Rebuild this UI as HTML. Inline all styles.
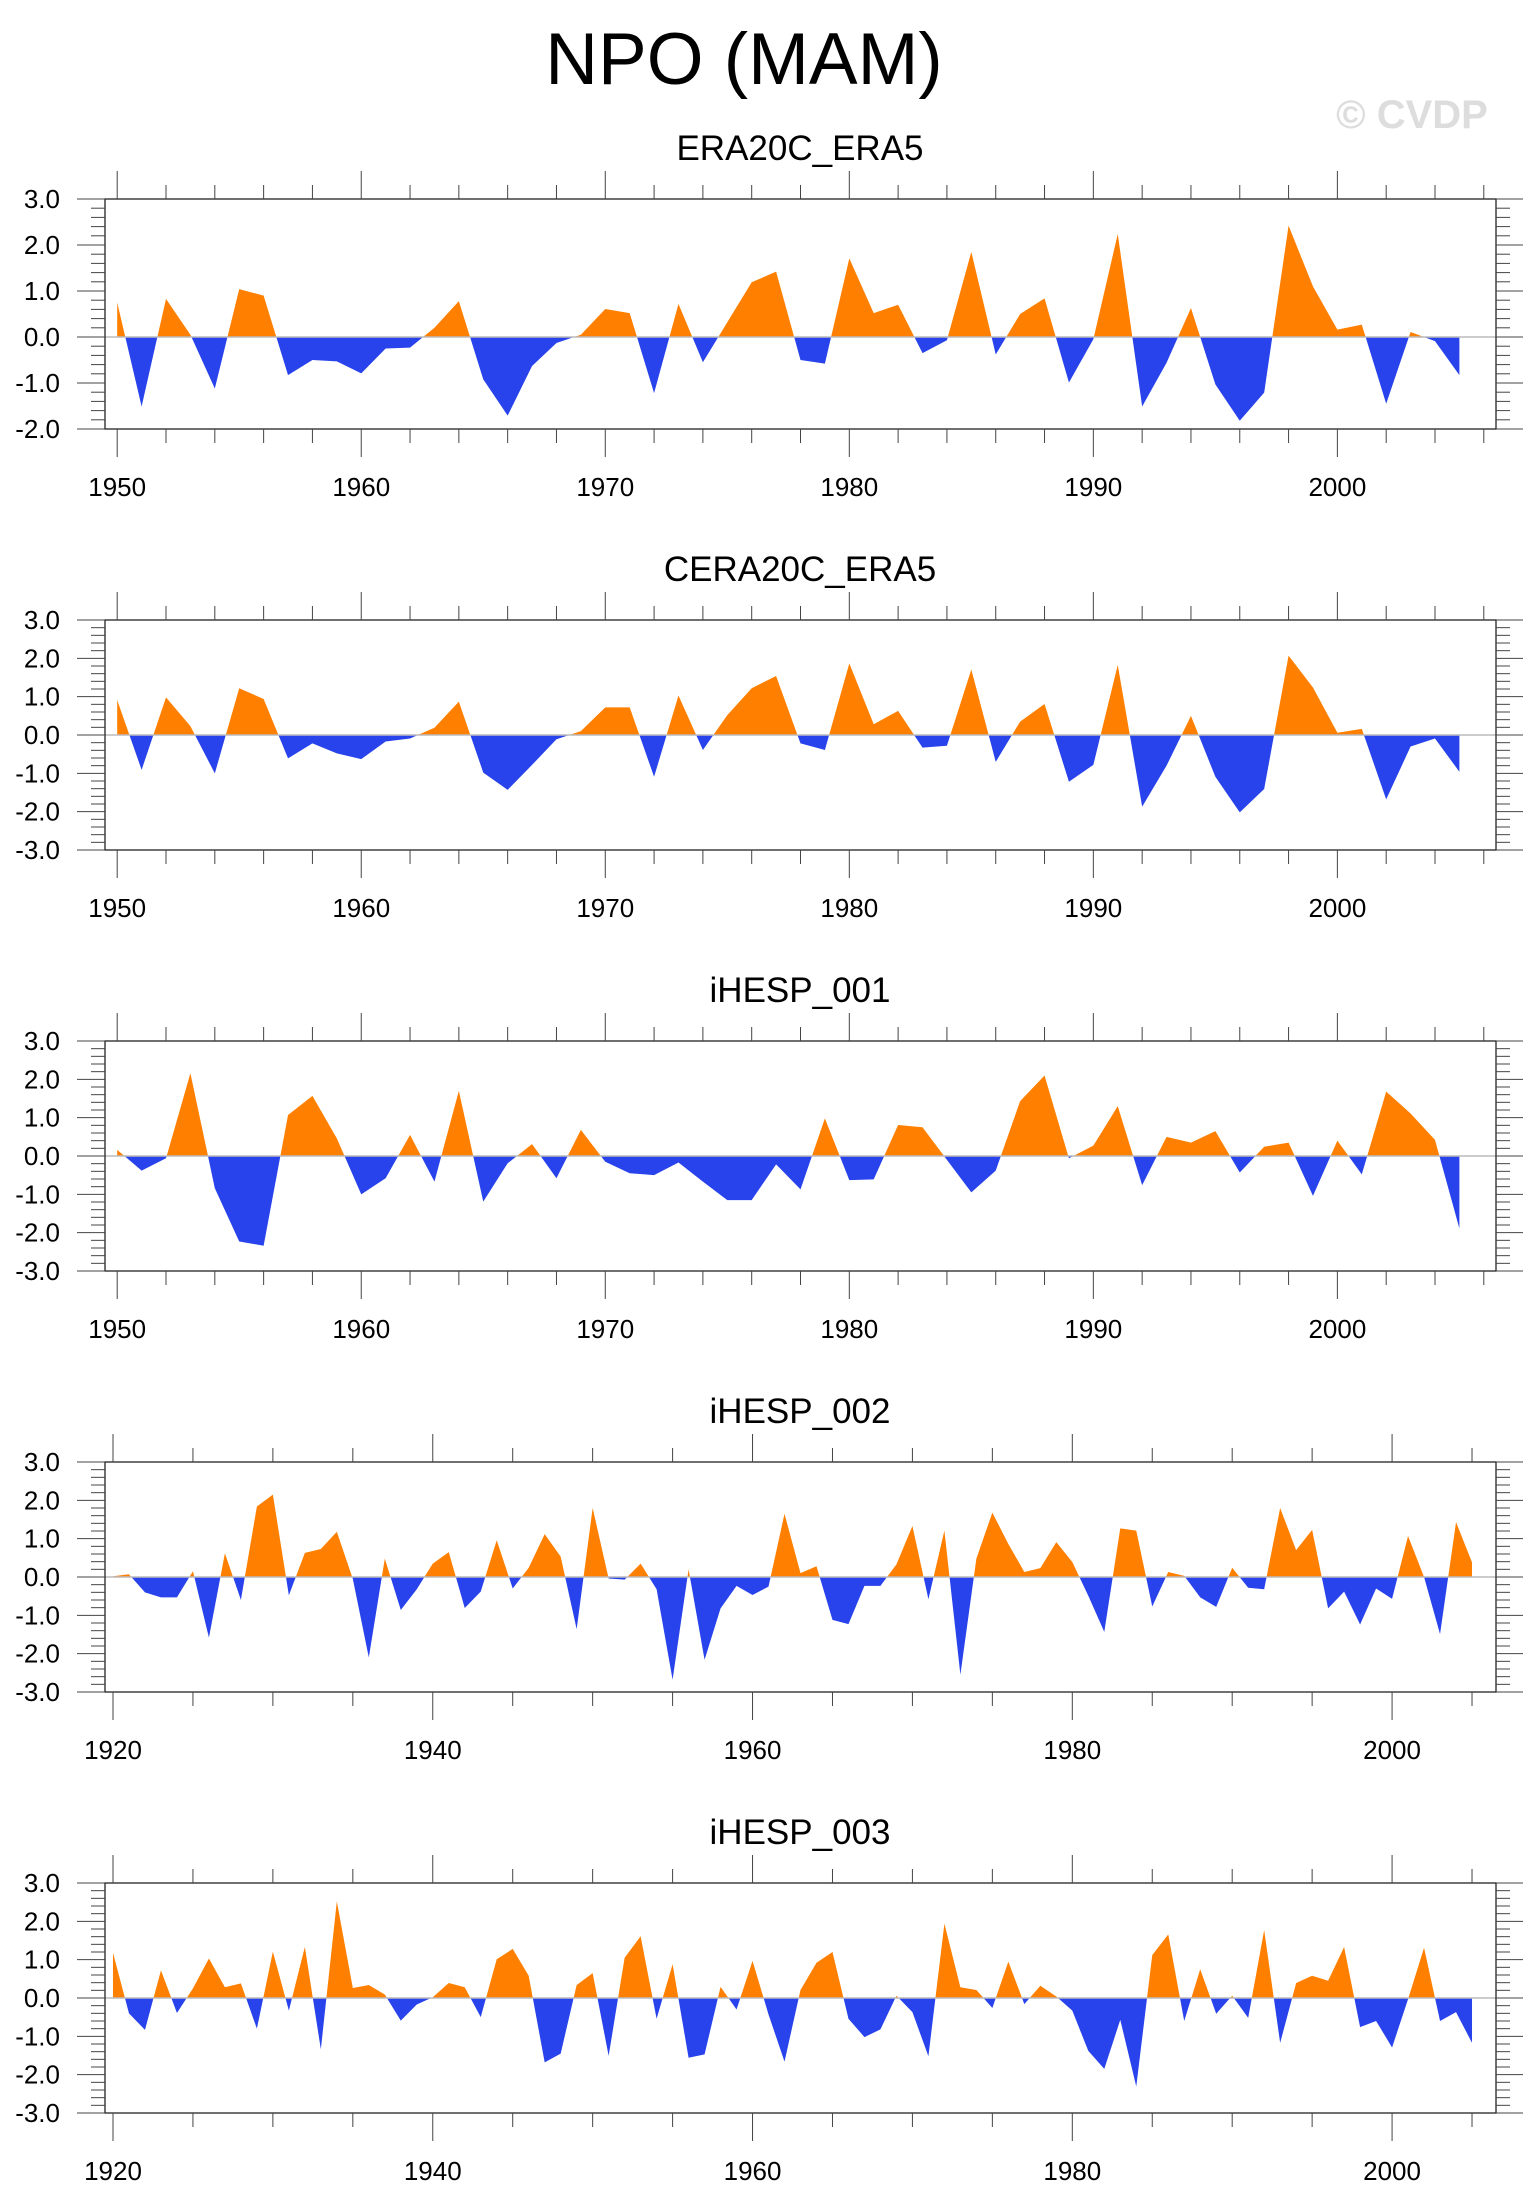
<!DOCTYPE html>
<html><head><meta charset="utf-8"><style>
html,body{margin:0;padding:0;background:#fff;}
svg{display:block;font-family:"Liberation Sans",Arial,sans-serif;}
</style></head><body>
<svg id="root" width="1533" height="2211" viewBox="0 0 1533 2211" xmlns="http://www.w3.org/2000/svg">
<text x="744" y="84" font-size="73" text-anchor="middle" fill="#000">NPO (MAM)</text>
<text x="1412" y="128" font-size="40" font-weight="bold" text-anchor="middle" fill="#ddd">© CVDP</text>
<g id="panels"></g>
</svg>
<script>
const titles = ["ERA20C_ERA5","CERA20C_ERA5","iHESP_001","iHESP_002","iHESP_003"];
const startYears = [1950,1950,1950,1920,1920];
const yMins = [-2,-3,-3,-3,-3];
const yMaxs = [3,3,3,3,3];
const era20c = [0.75,-1.51,0.83,0.05,-1.12,1.04,0.9,-0.83,-0.5,-0.53,-0.79,-0.25,-0.23,0.2,0.78,-0.92,-1.71,-0.63,-0.13,0.05,0.61,0.52,-1.22,0.72,-0.55,0.32,1.19,1.42,-0.5,-0.58,1.71,0.52,0.7,-0.35,-0.07,1.85,-0.38,0.5,0.84,-0.99,-0.05,2.24,-1.51,-0.56,0.63,-1.03,-1.82,-1.21,2.42,1.1,0.16,0.27,-1.45,0.11,-0.09,-0.83];
const cera20c = [0.91,-0.91,0.98,0.23,-1.0,1.22,0.94,-0.61,-0.22,-0.48,-0.63,-0.17,-0.09,0.19,0.87,-0.98,-1.43,-0.78,-0.11,0.1,0.72,0.72,-1.09,1.03,-0.39,0.52,1.22,1.54,-0.22,-0.39,1.87,0.28,0.63,-0.33,-0.28,1.71,-0.7,0.35,0.81,-1.22,-0.78,1.83,-1.87,-0.8,0.5,-1.09,-2.02,-1.41,2.07,1.24,0.06,0.16,-1.68,-0.3,-0.09,-0.96];
const ihesp001 = [0.16,-0.38,-0.06,2.16,-0.84,-2.23,-2.34,1.07,1.57,0.46,-1.0,-0.58,0.55,-0.67,1.7,-1.19,-0.19,0.31,-0.58,0.68,-0.15,-0.45,-0.5,-0.17,-0.67,-1.15,-1.15,-0.22,-0.87,0.98,-0.63,-0.61,0.81,0.75,-0.1,-0.95,-0.38,1.43,2.1,-0.06,0.27,1.3,-0.76,0.5,0.35,0.65,-0.43,0.24,0.35,-1.04,0.4,-0.48,1.68,1.11,0.42,-1.89];
const ihesp002 = [0.02,0.07,-0.4,-0.53,-0.53,0.15,-1.58,0.62,-0.6,1.84,2.15,-0.48,0.63,0.73,1.18,-0.05,-2.1,0.48,-0.86,-0.32,0.35,0.65,-0.81,-0.38,0.96,-0.3,0.24,1.12,0.53,-1.36,1.8,-0.04,-0.07,0.35,-0.32,-2.68,0.2,-2.16,-0.82,-0.23,-0.47,-0.25,1.65,0.1,0.28,-1.12,-1.23,-0.23,-0.23,0.33,1.33,-0.58,1.21,-2.55,0.48,1.68,0.86,0.13,0.23,0.91,0.39,-0.49,-1.43,1.27,1.21,-0.77,0.13,0.03,-0.53,-0.78,0.24,-0.28,-0.32,1.8,0.7,1.23,-0.82,-0.38,-1.24,-0.3,-0.57,1.07,0.0,-1.49,1.43,0.38];
const ihesp003 = [1.18,-0.4,-0.83,0.72,-0.39,0.25,1.03,0.28,0.38,-0.8,1.21,-0.33,1.33,-1.34,2.52,0.26,0.34,0.09,-0.59,-0.17,0.02,0.39,0.28,-0.5,1.01,1.28,0.58,-1.68,-1.45,0.34,0.65,-1.51,1.05,1.61,-0.54,0.88,-1.56,-1.47,0.29,-0.3,0.97,-0.43,-1.66,0.21,0.92,1.2,-0.54,-1.02,-0.82,0.06,-0.37,-1.52,1.94,0.28,0.21,-0.26,0.95,-0.16,0.32,0.04,-0.33,-1.38,-1.85,-0.57,-2.31,1.12,1.66,-0.6,0.75,-0.41,0.06,-0.52,1.77,-1.17,0.39,0.58,0.45,1.33,-0.76,-0.6,-1.29,-0.03,1.31,-0.6,-0.37,-1.17];
const seriesList = [era20c,cera20c,ihesp001,ihesp002,ihesp003];
const yTickLabels = ["-3.0","-2.0","-1.0","0.0","1.0","2.0","3.0"];

const NS="http://www.w3.org/2000/svg";
const host=document.getElementById('panels');
function mk(tag,attrs,parent){const e=document.createElementNS(NS,tag);for(const k in attrs)e.setAttribute(k,attrs[k]);parent.appendChild(e);return e;}
const L=105,R=1496,H=230;
seriesList.forEach((vals,p)=>{
  const top=199+p*421, bot=top+H;
  const y0=startYears[p], n=vals.length;
  const ymin=yMins[p], ymax=yMaxs[p];
  const xS=yr=>L+(yr-(y0-0.5))*(R-L)/(n+1);
  const yS=v=>bot-(v-ymin)*H/(ymax-ymin);
  const g=mk('g',{},host);
  
  
  const t=mk('text',{x:800,y:top-39,'font-size':35,'text-anchor':'middle',fill:'#000'},g);
  t.textContent=titles[p];
  
  
  const zy=yS(0);
  let d='M'+xS(y0)+','+zy;
  vals.forEach((v,i)=>{d+=' L'+xS(y0+i).toFixed(2)+','+yS(v).toFixed(2);});
  d+=' L'+xS(y0+n-1)+','+zy+' Z';
  const cpA=mk('clipPath',{id:'ca'+p},g); mk('rect',{x:0,y:0,width:1533,height:zy},cpA);
  const cpB=mk('clipPath',{id:'cb'+p},g); mk('rect',{x:0,y:zy,width:1533,height:2211},cpB);
  const pa=mk('path',{d:d,fill:'#ff8000','clip-path':'url(#ca'+p+')'},g);
  
  
  const pb=mk('path',{d:d,fill:'#2843ec','clip-path':'url(#cb'+p+')'},g);
  
  
  const zl=mk('line',{x1:L,x2:R,y1:zy,y2:zy,stroke:'#bbb','stroke-width':1.5},g);
  
  
  const fr=mk('rect',{x:L,y:top,width:R-L,height:H,fill:'none',stroke:'#222','stroke-width':1.3},g);
  
  
  for(let k=Math.round(ymin*5);k<=ymax*5;k++){
    const v=k/5, yy=yS(v), major=(k%5===0);
    mk('line',{x1:major?77:91,x2:L,y1:yy,y2:yy,stroke:'#444','stroke-width':1},g);
    mk('line',{x1:R,x2:major?R+27:R+14,y1:yy,y2:yy,stroke:'#444','stroke-width':1},g);
    if(major){
      const lb=mk('text',{x:60,y:yy+9,'font-size':26,'text-anchor':'end',fill:'#000'},g);
      lb.textContent=yTickLabels[v+3];
      
      
    }
  }
  const minorStep=(p<3)?2:5, majorStep=(p<3)?10:20;
  for(let yr=y0;yr<=y0+n;yr+=minorStep){
    const xx=xS(yr); if(xx>R) break;
    const major=((yr-y0)%majorStep===0);
    mk('line',{x1:xx,x2:xx,y1:major?top-28:top-14,y2:top,stroke:'#444','stroke-width':1},g);
    mk('line',{x1:xx,x2:xx,y1:bot,y2:major?bot+28:bot+14,stroke:'#444','stroke-width':1},g);
    if(major){
      const lb=mk('text',{x:xx,y:bot+67,'font-size':26,'text-anchor':'middle',fill:'#000'},g);
      lb.textContent=String(yr);
      
      
    }
  }
});
</script>
</body></html>
